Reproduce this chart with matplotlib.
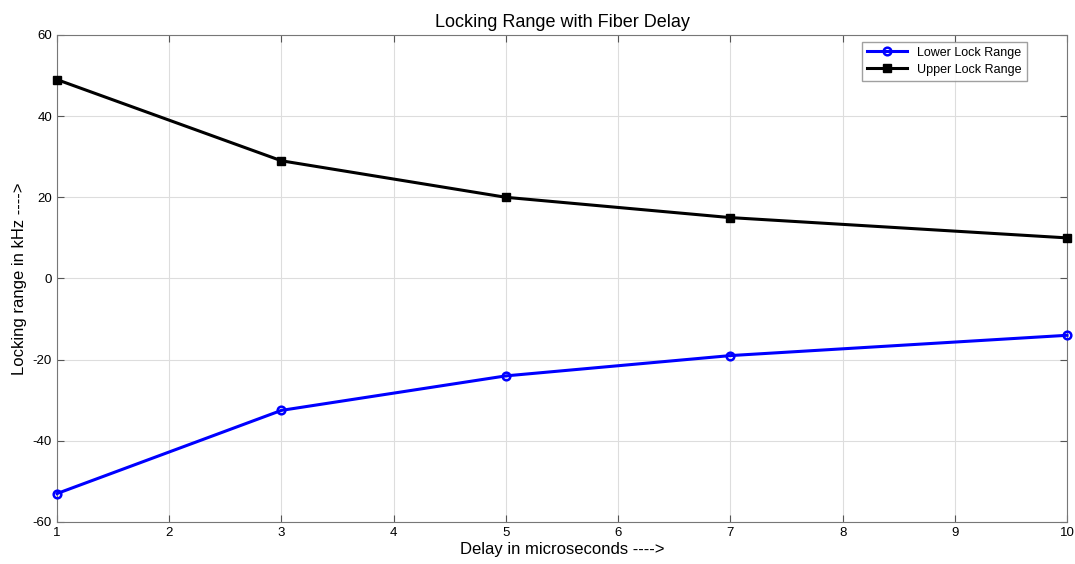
import matplotlib.pyplot as plt

plt.rcParams['font.family'] = ['Liberation Sans', 'DejaVu Sans']
plt.rcParams['axes.unicode_minus'] = False

delay = [1, 3, 5, 7, 10]
lower_lock = [-53, -32.5, -24, -19, -14]
upper_lock = [49, 29, 20, 15, 10]


def main():
    fig = plt.figure(figsize=(10.75, 5.64), dpi=100)
    ax = fig.add_axes([0.053, 0.0745, 0.9396, 0.8635])

    ax.plot(delay, lower_lock, color='#0000ff', lw=2.2, marker='o', ms=5.5,
            mfc='none', mew=1.8, label='Lower Lock Range', clip_on=False, zorder=3)
    ax.plot(delay, upper_lock, color='black', lw=2.2, marker='s', ms=5.5,
            label='Upper Lock Range', clip_on=False, zorder=3)

    ax.set_xlim(1, 10)
    ax.set_ylim(-60, 60)
    ax.set_xticks(range(1, 11))
    ax.set_yticks(range(-60, 61, 20))
    ax.grid(True, color='#dddddd', lw=0.8)
    ax.tick_params(direction='in', labelsize=9.5, color='#555555', length=5,
                   top=True, right=True)
    for s in ax.spines.values():
        s.set_color('#777777')

    ax.set_title('Locking Range with Fiber Delay', fontsize=13)
    ax.set_xlabel('Delay in microseconds ---->', fontsize=12, labelpad=2)
    ax.set_ylabel('Locking range in kHz ---->', fontsize=12)

    leg = ax.legend(loc='upper right', bbox_to_anchor=(0.96, 0.986),
                    fontsize=9, fancybox=False, borderaxespad=0,
                    handlelength=3.2, labelspacing=0.4)
    leg.get_frame().set_edgecolor('#888888')

    fig.savefig('out.png')


if __name__ == '__main__':
    main()
